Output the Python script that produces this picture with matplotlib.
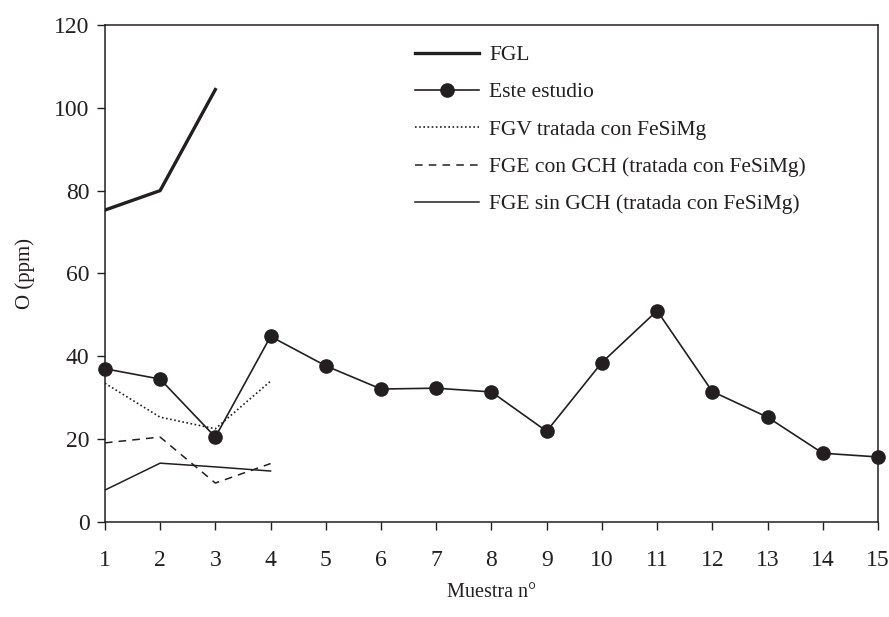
import numpy as np
import matplotlib
matplotlib.use('Agg')
import matplotlib.pyplot as plt

plt.rcParams['font.family'] = ['Liberation Serif', 'DejaVu Serif']

ink = '#231f20'

# Muestras
muestras = np.arange(1, 16)
muestras_ref = np.arange(1, 5)

# O (ppm) por serie
este_estudio = [37.0, 34.5, 20.5, 44.8, 37.7, 32.1, 32.3, 31.4, 21.9, 38.5,
                51.0, 31.5, 25.3, 16.6, 15.7]
fgl = [75.3, 80.0, 104.4]
fgv = [33.5, 25.3, 22.5, 34.0]
fge_con_gch = [19.1, 20.5, 9.4, 14.1]
fge_sin_gch = [7.7, 14.2, 13.3, 12.3]

fig = plt.figure(figsize=(8.89, 6.17), dpi=100)
ax = fig.add_axes([0.118, 0.154, 0.8696, 0.8056])

ax.plot(muestras_ref[:3], fgl, color=ink, lw=2.4, label='FGL')
ax.plot(muestras, este_estudio, color=ink, lw=1.2, marker='o', ms=9.5,
        clip_on=False, zorder=3, label='Este estudio')
ax.plot(muestras_ref, fgv, color=ink, lw=1.2, linestyle=(0, (1, 1.5)),
        label='FGV tratada con FeSiMg')
ax.plot(muestras_ref, fge_con_gch, color=ink, lw=1.1, linestyle=(0, (5, 4)),
        label='FGE con GCH (tratada con FeSiMg)')
ax.plot(muestras_ref, fge_sin_gch, color=ink, lw=1.1,
        label='FGE sin GCH (tratada con FeSiMg)')

ax.set_xlim(1, 15)
ax.set_ylim(0, 120)
ax.set_xticks(muestras)
ax.set_yticks(np.arange(0, 121, 20))
ax.tick_params(direction='out', length=6, width=1, colors=ink, labelsize=17)
ax.tick_params(axis='x', pad=14)
ax.tick_params(axis='y', pad=5)
for sp in ax.spines.values():
    sp.set_color(ink)
    sp.set_linewidth(1.1)

ax.set_xlabel('Muestra n°', fontsize=14.5, color=ink, labelpad=9)
ax.set_ylabel('O (ppm)', fontsize=15, color=ink, labelpad=14)

leg = ax.legend(loc='upper left', bbox_to_anchor=(0.3785, 0.994), frameon=False,
                fontsize=15.5, handlelength=3.0, handletextpad=0.46,
                labelspacing=0.8, borderaxespad=0.4)
for t in leg.get_texts():
    t.set_color(ink)

fig.savefig('out.png', dpi=100)
